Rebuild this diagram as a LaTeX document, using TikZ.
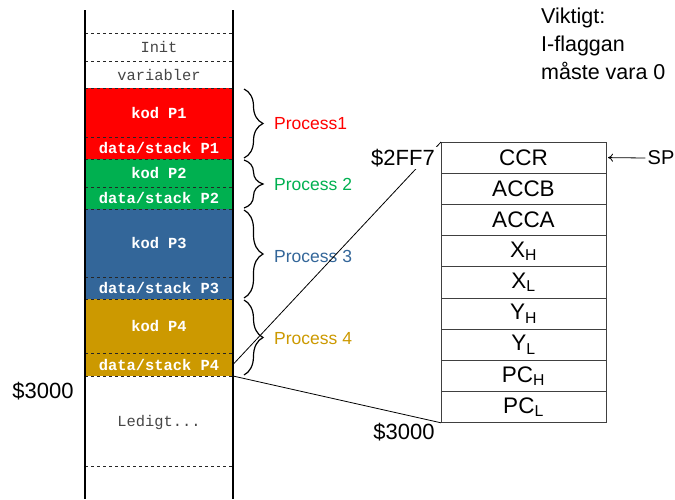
\documentclass[tikz,border=0pt]{standalone}
\usepackage{fontspec}
\setmainfont{Liberation Sans}
\setmonofont{Liberation Mono}
\usetikzlibrary{decorations.pathreplacing,arrows.meta}
\definecolor{pred}{RGB}{255,0,0}
\definecolor{pgreen}{RGB}{0,176,80}
\definecolor{pblue}{RGB}{51,102,153}
\definecolor{pgold}{RGB}{204,153,0}
\definecolor{memgray}{RGB}{70,70,70}
\begin{document}
\begin{tikzpicture}[x=1pt,y=-1pt,
  region/.style={minimum width=148pt, inner sep=0pt, outer sep=0pt, text=white,
    font=\ttfamily\bfseries\fontsize{15.4}{15.4}\selectfont},
  plain/.style={minimum width=148pt, inner sep=0pt, outer sep=0pt, text=memgray,
    font=\ttfamily\fontsize{15.4}{15.4}\selectfont},
  sep/.style={dashed, line width=0.7pt, black!85},
  colline/.style={line width=1.1pt, black},
  cell/.style={draw=black!75, line width=0.9pt, minimum width=165pt, minimum height=31.2pt,
    inner sep=0pt, outer sep=0pt, font=\fontsize{22.5}{22.5}\selectfont},
  pbrace/.style={decorate, decoration={brace, amplitude=19pt}, line width=1.2pt},
  plabel/.style={anchor=west, inner sep=1pt, font=\fontsize{17.5}{17.5}\selectfont},
  addr/.style={font=\fontsize{22}{22}\selectfont, inner sep=2pt}
]
\useasboundingbox (0,0) rectangle (675,499);

% memory regions
\node[plain, minimum height=28pt] (init) at (159,47) {Init};
\node[plain, minimum height=27pt] (var) at (159,74.5) {variabler};
\node[region, fill=pred, minimum height=49pt] (k1) at (159,112.5) {kod P1};
\node[region, fill=pred, minimum height=22pt] (d1) at (159,148) {data/stack P1};
\node[region, fill=pgreen, minimum height=28pt] (k2) at (159,173) {kod P2};
\node[region, fill=pgreen, minimum height=22pt] (d2) at (159,198) {data/stack P2};
\node[region, fill=pblue, minimum height=68pt] (k3) at (159,243) {kod P3};
\node[region, fill=pblue, minimum height=22pt] (d3) at (159,288) {data/stack P3};
\node[region, fill=pgold, minimum height=54pt] (k4) at (159,326) {kod P4};
\node[region, fill=pgold, minimum height=23pt] (d4) at (159,364.5) {data/stack P4};
\node[plain, minimum height=90pt, text depth=0pt] (led) at (159,421) {Ledigt...};

% dashed separators
\foreach \n in {init,var,k1,d1,k2,d2,k3,d3,k4,d4,led}
  \draw[sep] (\n.north west) -- (\n.north east);
\draw[sep] (led.south west) -- (led.south east);

% column walls
\draw[colline] (85,10) -- (85,499);
\draw[colline] (233,10) -- (233,499);

% braces and process labels
\draw[pbrace] (244,89) -- (244,158) coordinate[midway] (b1);
\node[plabel, text=pred] (p1) at ([xshift=29pt]b1) {Process1};
\draw[pbrace] (244,160) -- (244,208) coordinate[midway] (b2);
\node[plabel, text=pgreen] (p2) at ([xshift=29pt]b2) {Process 2};
\draw[pbrace] (244,210) -- (244,298) coordinate[midway] (b3);
\node[plabel, text=pblue] (p3) at ([xshift=29pt,yshift=-2pt]b3) {Process 3};
\draw[pbrace] (244,300) -- (244,375) coordinate[midway] (b4);
\node[plabel, text=pgold] (p4) at ([xshift=29pt,yshift=-1pt]b4) {Process 4};

% stack frame
\node[cell] (r1) at (523.5,157.6) {CCR};
\node[cell] (r2) at (523.5,188.8) {ACCB};
\node[cell] (r3) at (523.5,220.0) {ACCA};
\node[cell] (r4) at (523.5,251.2) {X\textsubscript{H}};
\node[cell] (r5) at (523.5,282.4) {X\textsubscript{L}};
\node[cell] (r6) at (523.5,313.6) {Y\textsubscript{H}};
\node[cell] (r7) at (523.5,344.8) {Y\textsubscript{L}};
\node[cell] (r8) at (523.5,376.0) {PC\textsubscript{H}};
\node[cell] (r9) at (523.5,407.2) {PC\textsubscript{L}};

% zoom lines
\draw[line width=0.8pt] (d4.east) -- (r1.north west);
\draw[line width=0.8pt] (d4.south east) -- (r9.south west);

% addresses
\node[addr, fill=white, anchor=east] (a1) at (437,158) {\$2FF7};
\node[addr] (a2) at (404,432) {\$3000};
\node[addr] (a3) at (43,391) {\$3000};

% SP
\node[font=\fontsize{20}{20}\selectfont, inner sep=2pt] (sp) at (661,158) {SP};
\draw[-{To[length=5pt,width=8pt]}, line width=0.8pt] (sp.west) -- ([xshift=2pt]r1.east);

% note
\node[anchor=north west, align=left, inner sep=0pt, font=\fontsize{21.5}{28}\selectfont]
  (note) at (541,8) {Viktigt:\\I-flaggan\\måste vara 0};
\end{tikzpicture}
\end{document}
